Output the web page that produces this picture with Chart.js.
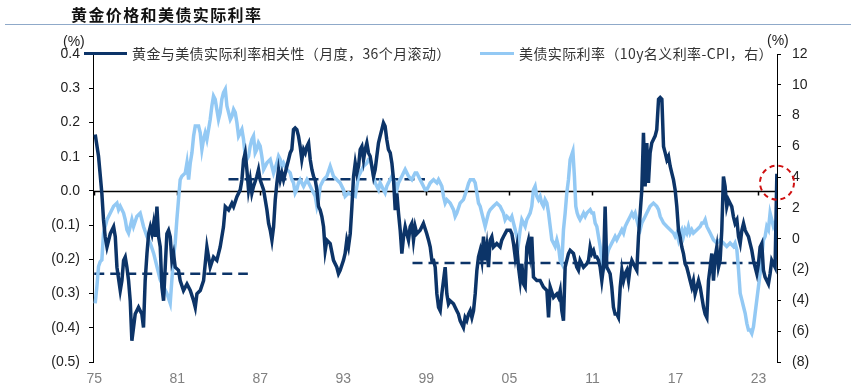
<!DOCTYPE html>
<html>
<head>
<meta charset="utf-8">
<script src="https://cdn.jsdelivr.net/npm/chart.js@4"></script>
<style>
  html, body { margin: 0; padding: 0; background: #fff; }
  #wrap { position: relative; width: 851px; height: 389px; overflow: hidden; }
  #wrap canvas { position: absolute; left: 0; top: 0; }
  .txt { position: absolute; white-space: nowrap; color: #222; font-family: "Noto Sans CJK SC", sans-serif; }
  #title { left: 71px; top: 2px; font-size: 16px; font-weight: bold; letter-spacing: 1.4px; color: #111; }
  #rule { position: absolute; left: 5px; top: 24px; width: 846px; height: 0; border-top: 1.5px solid #8fa9c9; }
  .key { position: absolute; height: 3px; }
  .leg { font-size: 14px; letter-spacing: 0.4px; color: #333; }
  .unit { font-family: "Liberation Sans", Arial, sans-serif; font-size: 14px; color: #222; }
</style>
</head>
<body>
<div id="wrap">
  <canvas id="chart" width="851" height="389"></canvas>
  <div class="txt" id="title">黄金价格和美债实际利率</div>
  <div id="rule"></div>
  <div class="txt unit" style="left:63px; top:33px;">(%)</div>
  <div class="txt unit" style="left:767px; top:32px;">(%)</div>
  <div class="key" style="left:84px; top:52px; width:43px; background:#0c3468;"></div>
  <div class="txt leg" style="left:132px; top:43px;">黄金与美债实际利率相关性（月度，36个月滚动）</div>
  <div class="key" style="left:480px; top:52px; width:34px; background:#93c9f4;"></div>
  <div class="txt leg" style="left:519px; top:43px;">美债实际利率（10y名义利率-CPI，右）</div>
</div>
<script>
/* ---------- data: gold vs US real rate correlation (left axis) ---------- */
const corrYears = [
  1975.07, 1975.31, 1975.55, 1975.67, 1975.79, 1975.92, 1976.16, 1976.40, 1976.52, 1976.64,
  1976.88, 1977.00, 1977.12, 1977.24, 1977.36, 1977.48, 1977.60, 1977.72, 1977.84, 1977.96,
  1978.20, 1978.32, 1978.44, 1978.56, 1978.68, 1978.81, 1978.93, 1979.05, 1979.17, 1979.29,
  1979.41, 1979.53, 1979.65, 1979.77, 1979.89, 1980.01, 1980.13, 1980.25, 1980.37, 1980.49,
  1980.61, 1980.73, 1980.85, 1981.09, 1981.21, 1981.45, 1981.70, 1981.94, 1982.18, 1982.30,
  1982.42, 1982.66, 1982.90, 1983.14, 1983.38, 1983.62, 1983.86, 1984.10, 1984.34, 1984.47,
  1984.71, 1984.95, 1985.07, 1985.31, 1985.55, 1985.67, 1985.79, 1985.91, 1986.03, 1986.15,
  1986.27, 1986.39, 1986.51, 1986.75, 1986.87, 1986.99, 1987.24, 1987.48, 1987.60, 1987.72,
  1987.84, 1987.96, 1988.08, 1988.20, 1988.32, 1988.44, 1988.56, 1988.68, 1988.92, 1989.04,
  1989.16, 1989.28, 1989.40, 1989.52, 1989.64, 1989.76, 1989.88, 1990.00, 1990.13, 1990.25,
  1990.37, 1990.49, 1990.61, 1990.73, 1990.85, 1990.97, 1991.09, 1991.21, 1991.33, 1991.45,
  1991.57, 1991.69, 1991.81, 1992.05, 1992.29, 1992.53, 1992.65, 1992.77, 1993.01, 1993.13,
  1993.25, 1993.37, 1993.50, 1993.62, 1993.74, 1993.86, 1993.98, 1994.10, 1994.22, 1994.34,
  1994.46, 1994.58, 1994.70, 1994.82, 1994.94, 1995.06, 1995.18, 1995.30, 1995.42, 1995.54,
  1995.66, 1995.78, 1995.90, 1996.02, 1996.14, 1996.26, 1996.39, 1996.51, 1996.63, 1996.75,
  1996.87, 1996.99, 1997.11, 1997.23, 1997.35, 1997.47, 1997.59, 1997.71, 1997.83, 1997.95,
  1998.07, 1998.19, 1998.31, 1998.55, 1998.79, 1999.03, 1999.16, 1999.28, 1999.40, 1999.52,
  1999.64, 1999.76, 1999.88, 2000.00, 2000.12, 2000.24, 2000.36, 2000.48, 2000.60, 2000.72,
  2000.96, 2001.20, 2001.32, 2001.44, 2001.68, 2001.80, 2001.92, 2002.05, 2002.17, 2002.29,
  2002.41, 2002.53, 2002.65, 2002.77, 2002.89, 2003.01, 2003.13, 2003.25, 2003.37, 2003.49,
  2003.61, 2003.73, 2003.85, 2004.09, 2004.33, 2004.45, 2004.57, 2004.69, 2004.82, 2005.06,
  2005.18, 2005.30, 2005.42, 2005.54, 2005.66, 2005.78, 2005.90, 2006.02, 2006.14, 2006.26,
  2006.38, 2006.50, 2006.62, 2006.74, 2006.98, 2007.22, 2007.46, 2007.71, 2007.83, 2007.95,
  2008.19, 2008.43, 2008.55, 2008.67, 2008.79, 2008.91, 2009.03, 2009.15, 2009.27, 2009.39,
  2009.63, 2009.87, 2009.99, 2010.11, 2010.36, 2010.60, 2010.72, 2010.84, 2010.96, 2011.08,
  2011.20, 2011.32, 2011.44, 2011.56, 2011.68, 2011.80, 2011.92, 2012.04, 2012.16, 2012.28,
  2012.40, 2012.52, 2012.64, 2012.76, 2012.88, 2013.01, 2013.13, 2013.25, 2013.37, 2013.49,
  2013.61, 2013.73, 2013.85, 2013.97, 2014.09, 2014.21, 2014.33, 2014.45, 2014.57, 2014.69,
  2014.81, 2014.93, 2015.05, 2015.17, 2015.29, 2015.41, 2015.53, 2015.65, 2015.78, 2015.90,
  2016.02, 2016.14, 2016.26, 2016.38, 2016.50, 2016.62, 2016.74, 2016.86, 2016.98, 2017.10,
  2017.22, 2017.34, 2017.46, 2017.58, 2017.70, 2017.82, 2017.94, 2018.06, 2018.18, 2018.30,
  2018.42, 2018.55, 2018.67, 2018.79, 2018.91, 2019.03, 2019.15, 2019.27, 2019.39, 2019.51,
  2019.63, 2019.75, 2019.87, 2019.99, 2020.11, 2020.23, 2020.35, 2020.47, 2020.59, 2020.71,
  2020.83, 2020.95, 2021.07, 2021.19, 2021.31, 2021.44, 2021.56, 2021.68, 2021.80, 2021.92,
  2022.04, 2022.16, 2022.28, 2022.40, 2022.52, 2022.64, 2022.76, 2022.88, 2023.00, 2023.12,
  2023.24, 2023.36, 2023.48, 2023.60, 2023.72, 2023.84, 2023.96, 2024.08, 2024.20, 2024.33
];
const corrValues = [
  0.165, 0.101, -0.007, -0.085, -0.134, -0.164, -0.125, -0.105, -0.134, -0.223,
  -0.291, -0.262, -0.203, -0.193, -0.223, -0.262, -0.321, -0.438, -0.399, -0.360,
  -0.340, -0.350, -0.360, -0.399, -0.262, -0.183, -0.125, -0.105, -0.125, -0.095,
  -0.134, -0.046, -0.134, -0.164, -0.281, -0.321, -0.223, -0.125, -0.115, -0.134,
  -0.203, -0.183, -0.223, -0.232, -0.262, -0.291, -0.272, -0.291, -0.321, -0.340,
  -0.301, -0.291, -0.262, -0.164, -0.223, -0.193, -0.203, -0.164, -0.105, -0.046,
  -0.056, -0.036, -0.046, -0.017, 0.003, 0.032, 0.091, 0.111, 0.062, 0.003,
  0.032, -0.007, 0.013, 0.042, 0.062, 0.032, 0.003, -0.056, -0.095, -0.115,
  -0.144, -0.105, -0.026, 0.023, 0.062, 0.032, 0.052, 0.032, 0.072, 0.091,
  0.111, 0.121, 0.179, 0.184, 0.179, 0.160, 0.130, 0.091, 0.121, 0.111,
  0.130, 0.140, 0.091, 0.062, 0.042, 0.032, 0.003, -0.046, -0.056, -0.075,
  -0.105, -0.174, -0.144, -0.154, -0.203, -0.223, -0.242, -0.232, -0.203, -0.183,
  -0.144, -0.164, -0.125, -0.046, 0.042, 0.081, 0.052, 0.072, 0.121, 0.130,
  0.091, 0.121, 0.140, 0.111, 0.101, 0.072, 0.042, 0.062, 0.101, 0.140,
  0.160, 0.179, 0.199, 0.189, 0.150, 0.121, 0.111, 0.081, 0.032, -0.056,
  -0.007, -0.066, -0.115, -0.183, -0.134, -0.105, -0.125, -0.144, -0.105, -0.095,
  -0.144, -0.105, -0.125, -0.115, -0.095, -0.125, -0.144, -0.164, -0.203, -0.203,
  -0.223, -0.301, -0.340, -0.350, -0.301, -0.262, -0.223, -0.301, -0.330, -0.321,
  -0.330, -0.350, -0.360, -0.379, -0.399, -0.370, -0.379, -0.360, -0.350, -0.370,
  -0.350, -0.301, -0.233, -0.193, -0.174, -0.203, -0.134, -0.203, -0.164, -0.223,
  -0.144, -0.134, -0.164, -0.154, -0.164, -0.144, -0.134, -0.125, -0.115, -0.115,
  -0.125, -0.154, -0.193, -0.164, -0.223, -0.262, -0.213, -0.272, -0.281, -0.164,
  -0.144, -0.183, -0.134, -0.252, -0.262, -0.262, -0.281, -0.291, -0.370, -0.281,
  -0.311, -0.301, -0.311, -0.291, -0.350, -0.379, -0.223, -0.203, -0.183, -0.174,
  -0.183, -0.223, -0.232, -0.203, -0.223, -0.213, -0.203, -0.164, -0.183, -0.174,
  -0.193, -0.193, -0.203, -0.223, -0.262, -0.223, -0.046, -0.223, -0.232, -0.242,
  -0.281, -0.340, -0.360, -0.360, -0.370, -0.281, -0.232, -0.262, -0.242, -0.232,
  -0.262, -0.223, -0.203, -0.213, -0.223, -0.232, -0.134, -0.066, 0.003, 0.170,
  0.013, 0.140, 0.023, 0.111, 0.140, 0.150, 0.160, 0.179, 0.268, 0.273,
  0.268, 0.130, 0.111, 0.091, 0.101, 0.072, 0.052, 0.032, 0.003, -0.046,
  -0.115, -0.134, -0.164, -0.183, -0.213, -0.223, -0.242, -0.262, -0.281, -0.262,
  -0.301, -0.281, -0.262, -0.281, -0.311, -0.340, -0.360, -0.370, -0.262, -0.223,
  -0.183, -0.262, -0.193, -0.164, -0.223, -0.203, -0.115, 0.042, 0.013, -0.046,
  -0.026, -0.036, -0.046, -0.075, -0.095, -0.085, -0.134, -0.154, -0.115, -0.095,
  -0.115, -0.125, -0.134, -0.154, -0.174, -0.203, -0.223, -0.242, -0.213, -0.164,
  -0.154, -0.232, -0.252, -0.262, -0.272, -0.242, -0.203, -0.213, -0.223, 0.050
];

/* ---------- data: US 10y real rate = nominal - CPI (right axis, %) ---------- */
const rateYears = [
  1975.07, 1975.19, 1975.31, 1975.43, 1975.55, 1975.67, 1975.92, 1976.16, 1976.40, 1976.64,
  1976.76, 1976.88, 1977.12, 1977.24, 1977.36, 1977.48, 1977.60, 1977.72, 1977.84, 1978.08,
  1978.32, 1978.44, 1978.56, 1978.81, 1979.05, 1979.29, 1979.53, 1979.77, 1980.01, 1980.25,
  1980.49, 1980.61, 1980.73, 1980.85, 1980.97, 1981.09, 1981.21, 1981.33, 1981.58, 1981.70,
  1981.82, 1981.94, 1982.06, 1982.18, 1982.30, 1982.54, 1982.66, 1982.78, 1982.90, 1983.02,
  1983.14, 1983.38, 1983.50, 1983.62, 1983.74, 1983.86, 1983.98, 1984.10, 1984.22, 1984.34,
  1984.47, 1984.59, 1984.71, 1984.83, 1984.95, 1985.07, 1985.19, 1985.31, 1985.43, 1985.55,
  1985.67, 1985.79, 1985.91, 1986.03, 1986.15, 1986.27, 1986.39, 1986.51, 1986.63, 1986.75,
  1986.87, 1986.99, 1987.11, 1987.24, 1987.48, 1987.72, 1987.84, 1987.96, 1988.20, 1988.32,
  1988.44, 1988.56, 1988.68, 1988.92, 1989.16, 1989.28, 1989.40, 1989.52, 1989.64, 1989.76,
  1989.88, 1990.13, 1990.37, 1990.61, 1990.73, 1990.85, 1990.97, 1991.09, 1991.21, 1991.33,
  1991.45, 1991.57, 1991.81, 1992.05, 1992.29, 1992.53, 1992.77, 1993.01, 1993.13, 1993.37,
  1993.62, 1993.86, 1993.98, 1994.10, 1994.22, 1994.34, 1994.46, 1994.70, 1994.82, 1994.94,
  1995.06, 1995.18, 1995.30, 1995.42, 1995.54, 1995.66, 1995.78, 1995.90, 1996.02, 1996.14,
  1996.26, 1996.39, 1996.51, 1996.63, 1996.75, 1996.87, 1996.99, 1997.11, 1997.23, 1997.35,
  1997.47, 1997.59, 1997.71, 1997.95, 1998.07, 1998.19, 1998.31, 1998.43, 1998.55, 1998.67,
  1998.79, 1998.91, 1999.03, 1999.16, 1999.28, 1999.52, 1999.76, 1999.88, 2000.00, 2000.12,
  2000.24, 2000.36, 2000.48, 2000.72, 2000.96, 2001.08, 2001.20, 2001.44, 2001.68, 2001.92,
  2002.05, 2002.17, 2002.41, 2002.53, 2002.65, 2002.77, 2002.89, 2003.01, 2003.13, 2003.25,
  2003.37, 2003.49, 2003.61, 2003.85, 2004.09, 2004.33, 2004.45, 2004.57, 2004.69, 2004.82,
  2005.06, 2005.18, 2005.30, 2005.42, 2005.54, 2005.66, 2005.78, 2005.90, 2006.02, 2006.14,
  2006.26, 2006.38, 2006.50, 2006.62, 2006.74, 2006.86, 2006.98, 2007.10, 2007.22, 2007.34,
  2007.46, 2007.58, 2007.71, 2007.83, 2007.95, 2008.07, 2008.19, 2008.31, 2008.43, 2008.55,
  2008.67, 2008.79, 2008.91, 2009.03, 2009.15, 2009.27, 2009.39, 2009.59, 2009.70, 2009.80,
  2009.90, 2009.99, 2010.11, 2010.24, 2010.36, 2010.48, 2010.60, 2010.84, 2010.96, 2011.08,
  2011.20, 2011.32, 2011.44, 2011.56, 2011.68, 2011.80, 2011.92, 2012.04, 2012.16, 2012.28,
  2012.40, 2012.52, 2012.64, 2012.76, 2012.88, 2013.01, 2013.13, 2013.25, 2013.37, 2013.49,
  2013.61, 2013.73, 2013.85, 2013.97, 2014.09, 2014.21, 2014.33, 2014.45, 2014.57, 2014.69,
  2014.81, 2014.93, 2015.17, 2015.41, 2015.65, 2015.78, 2015.90, 2016.02, 2016.14, 2016.38,
  2016.62, 2016.86, 2016.98, 2017.10, 2017.22, 2017.34, 2017.46, 2017.58, 2017.70, 2017.82,
  2017.94, 2018.06, 2018.18, 2018.30, 2018.55, 2018.79, 2018.91, 2019.03, 2019.15, 2019.27,
  2019.39, 2019.51, 2019.63, 2019.75, 2019.99, 2020.23, 2020.47, 2020.71, 2020.95, 2021.19,
  2021.31, 2021.44, 2021.56, 2021.68, 2021.80, 2021.92, 2022.04, 2022.16, 2022.28, 2022.40,
  2022.52, 2022.64, 2022.76, 2022.88, 2023.00, 2023.12, 2023.24, 2023.36, 2023.48, 2023.60,
  2023.72, 2023.84, 2023.96, 2024.08, 2024.20, 2024.33
];
const rateValues = [
  -4.19, -3.11, -1.80, -1.48, -1.37, 0.37, 1.24, 1.67, 2.11, 2.32,
  1.89, 2.11, 1.67, 1.24, 0.59, 0.37, 0.80, 1.24, 0.80, 1.45,
  1.67, 1.24, 0.80, 0.15, -0.28, -0.93, -1.80, -2.67, -3.11, -3.54,
  -4.19, -2.67, -1.15, -0.28, 1.24, 2.54, 3.84, 4.06, 4.28, 4.93,
  3.84, 4.93, 5.58, 6.67, 7.32, 7.32, 6.88, 5.80, 6.45, 6.88,
  6.45, 7.75, 8.62, 9.27, 9.06, 8.40, 7.75, 8.19, 9.06, 9.49,
  9.71, 8.62, 8.19, 7.75, 7.97, 8.40, 8.19, 7.54, 6.67, 6.88,
  7.10, 6.45, 5.36, 5.15, 5.36, 6.02, 6.45, 6.67, 5.58, 5.80,
  6.23, 6.02, 5.36, 4.50, 4.93, 5.15, 4.71, 4.28, 4.93, 5.36,
  5.15, 4.71, 4.93, 4.50, 4.28, 3.84, 3.63, 2.98, 3.19, 3.63,
  3.84, 3.41, 3.84, 3.41, 3.19, 2.98, 2.76, 2.11, 2.54, 3.41,
  3.63, 3.84, 4.06, 4.71, 4.06, 3.84, 3.63, 3.19, 2.76, 2.98,
  2.87, 2.76, 3.41, 4.06, 4.28, 4.50, 4.71, 4.93, 5.15, 5.15,
  4.71, 4.06, 3.63, 3.41, 3.19, 3.63, 3.41, 3.19, 2.98, 3.41,
  3.63, 3.84, 4.06, 3.84, 3.63, 3.19, 3.63, 3.84, 4.06, 4.28,
  4.50, 4.28, 4.06, 3.84, 4.06, 4.28, 4.28, 4.06, 3.84, 3.63,
  3.41, 3.19, 3.19, 3.41, 3.63, 3.84, 3.63, 3.84, 3.63, 3.41,
  2.76, 2.32, 2.54, 2.32, 1.89, 1.45, 1.67, 2.32, 2.54, 3.19,
  3.60, 3.84, 3.84, 3.63, 2.98, 2.32, 2.11, 1.67, 1.24, 0.80,
  1.24, 1.67, 1.89, 2.11, 2.32, 2.11, 1.89, 1.67, 1.24, 1.45,
  1.24, 1.45, 1.02, 0.59, 0.15, -0.28, 0.59, 1.24, 1.02, 0.80,
  1.24, 1.45, 1.67, 2.11, 3.19, 3.41, 2.76, 2.54, 2.76, 2.32,
  2.11, 2.54, 2.32, 1.67, 0.80, -0.07, -0.28, -0.50, -0.07, -0.50,
  -1.37, -1.59, 0.59, 1.67, 2.98, 3.84, 5.15, 5.69, 4.06, 2.11,
  1.67, 1.45, 1.24, 1.45, 1.67, 1.45, 1.67, 1.89, 1.67, 1.67,
  1.02, 0.80, 0.15, -0.50, -1.37, -2.02, -1.80, -1.15, -0.72, -0.50,
  -0.28, -0.07, 0.15, -0.07, 0.15, 0.37, 0.59, 0.37, 0.80, 1.02,
  1.24, 1.45, 1.67, 1.45, 1.67, 1.24, 0.80, 0.59, 1.02, 1.24,
  1.45, 1.67, 2.11, 2.32, 2.11, 1.89, 1.45, 1.24, 1.02, 0.80,
  0.59, 0.37, 0.15, 0.37, -0.07, 0.37, 0.59, 0.15, 0.59, 0.37,
  0.80, 0.37, 0.59, 0.37, 0.59, 0.80, 1.02, 1.02, 1.24, 0.80,
  0.59, 0.37, 0.15, -0.07, -0.28, -0.07, -0.28, -0.50, -0.28, -0.50,
  -0.28, -0.72, -2.02, -3.54, -3.97, -4.41, -4.84, -5.49, -5.93, -5.93,
  -6.15, -5.71, -4.84, -3.97, -3.11, -2.24, -1.15, -0.07, 0.15, 0.80,
  0.59, 1.67, 1.24, 0.80, 1.02, 0.80
];

/* ---------- regime averages of the correlation (dashed) ---------- */
const avgStart = [1975.0, 1984.7, 1998.0];
const avgEnd = [1986.1, 1998.9, 2023.1];
const avgValue = [-0.242, 0.034, -0.211];

/* ---------- axes ---------- */
const tickYears = [1975, 1981, 1987, 1993, 1999, 2005, 2011, 2017, 2023];
const leftTicks = [-0.5, -0.4, -0.3, -0.2, -0.1, 0, 0.1, 0.2, 0.3, 0.4];
const rightTicks = [-8, -6, -4, -2, 0, 2, 4, 6, 8, 10, 12];
const marked = { year: 2024.34, value: 0.024 }; // red dashed circle

const navy = "#0c3468";
const sky = "#93c9f4";

const paren = (v, d) => {
  const s = Math.abs(v).toFixed(d);
  return v < -1e-9 ? "(" + s + ")" : s;
};

const avgSets = avgStart.map((s, i) => ({
  data: [{ x: s, y: avgValue[i] }, { x: avgEnd[i], y: avgValue[i] }],
  yAxisID: "y",
  borderColor: navy,
  borderWidth: 2.5,
  borderDash: [10, 6],
  pointRadius: 0,
}));

// zero line with year ticks, and the dashed circle at the last point
const extras = {
  id: "extras",
  beforeDatasetsDraw(chart) {
    const { ctx, chartArea, scales } = chart;
    const py = Math.round(scales.y.getPixelForValue(0)) + 0.5;
    ctx.save();
    ctx.strokeStyle = "#000";
    ctx.lineWidth = 1.5;
    ctx.beginPath();
    ctx.moveTo(chartArea.left, py);
    ctx.lineTo(chartArea.right, py);
    tickYears.forEach((t) => {
      const px = Math.round(scales.x.getPixelForValue(t)) + 0.5;
      ctx.moveTo(px, py);
      ctx.lineTo(px, py + 4);
    });
    ctx.stroke();
    ctx.restore();
  },
  afterDatasetsDraw(chart) {
    const { ctx, scales } = chart;
    const cx = scales.x.getPixelForValue(marked.year);
    const cy = scales.y.getPixelForValue(marked.value);
    ctx.save();
    ctx.strokeStyle = "#d01010";
    ctx.lineWidth = 2;
    ctx.setLineDash([5, 4]);
    ctx.beginPath();
    ctx.arc(cx, cy, 17, 0, Math.PI * 2);
    ctx.stroke();
    ctx.restore();
  },
};

new Chart(document.getElementById("chart"), {
  type: "line",
  data: {
    datasets: [
      {
        label: "黄金与美债实际利率相关性（月度，36个月滚动）",
        data: corrYears.map((x, i) => ({ x, y: corrValues[i] })),
        yAxisID: "y",
        borderColor: navy,
        borderWidth: 3.5,
        pointRadius: 0,
      },
      {
        label: "美债实际利率（10y名义利率-CPI，右）",
        data: rateYears.map((x, i) => ({ x, y: rateValues[i] })),
        yAxisID: "y1",
        borderColor: sky,
        borderWidth: 3.5,
        pointRadius: 0,
      },
      ...avgSets,
    ],
  },
  options: {
    responsive: false,
    animation: false,
    devicePixelRatio: 1,
    layout: { padding: { top: 54, left: 0, right: 0, bottom: 0 } },
    plugins: { legend: { display: false }, tooltip: { enabled: false } },
    scales: {
      x: {
        type: "linear",
        min: 1974.91,
        max: 2024.34,
        afterBuildTicks: (s) => { s.ticks = tickYears.map((v) => ({ value: v })); },
        afterFit: (s) => { s.height = 27; },
        grid: { display: false, drawTicks: false },
        border: { display: false },
        ticks: {
          padding: 9,
          color: "#808080",
          font: { family: "'Liberation Sans Narrow', 'Arial Narrow', sans-serif", size: 14 },
          callback: (v) => String(v).slice(2),
          maxRotation: 0,
          autoSkip: false,
        },
      },
      y: {
        position: "left",
        min: -0.5,
        max: 0.4,
        afterBuildTicks: (s) => { s.ticks = leftTicks.map((v) => ({ value: v })); },
        afterFit: (s) => { s.width = 93; },
        grid: { drawOnChartArea: false, tickLength: 4, color: "#000" },
        border: { color: "#000", width: 1 },
        ticks: {
          padding: 9,
          color: "#222",
          font: { family: "'Liberation Sans', Arial, sans-serif", size: 14 },
          callback: (v) => paren(v, 1),
        },
      },
      y1: {
        position: "right",
        min: -8,
        max: 12,
        afterBuildTicks: (s) => { s.ticks = rightTicks.map((v) => ({ value: v })); },
        afterFit: (s) => { s.width = 74; },
        grid: { drawOnChartArea: false, tickLength: 4, color: "#000" },
        border: { color: "#000", width: 1 },
        ticks: {
          padding: 11,
          color: "#222",
          font: { family: "'Liberation Sans', Arial, sans-serif", size: 14 },
          callback: (v) => paren(v, 0),
        },
      },
    },
  },
  plugins: [extras],
});
</script>
</body>
</html>
